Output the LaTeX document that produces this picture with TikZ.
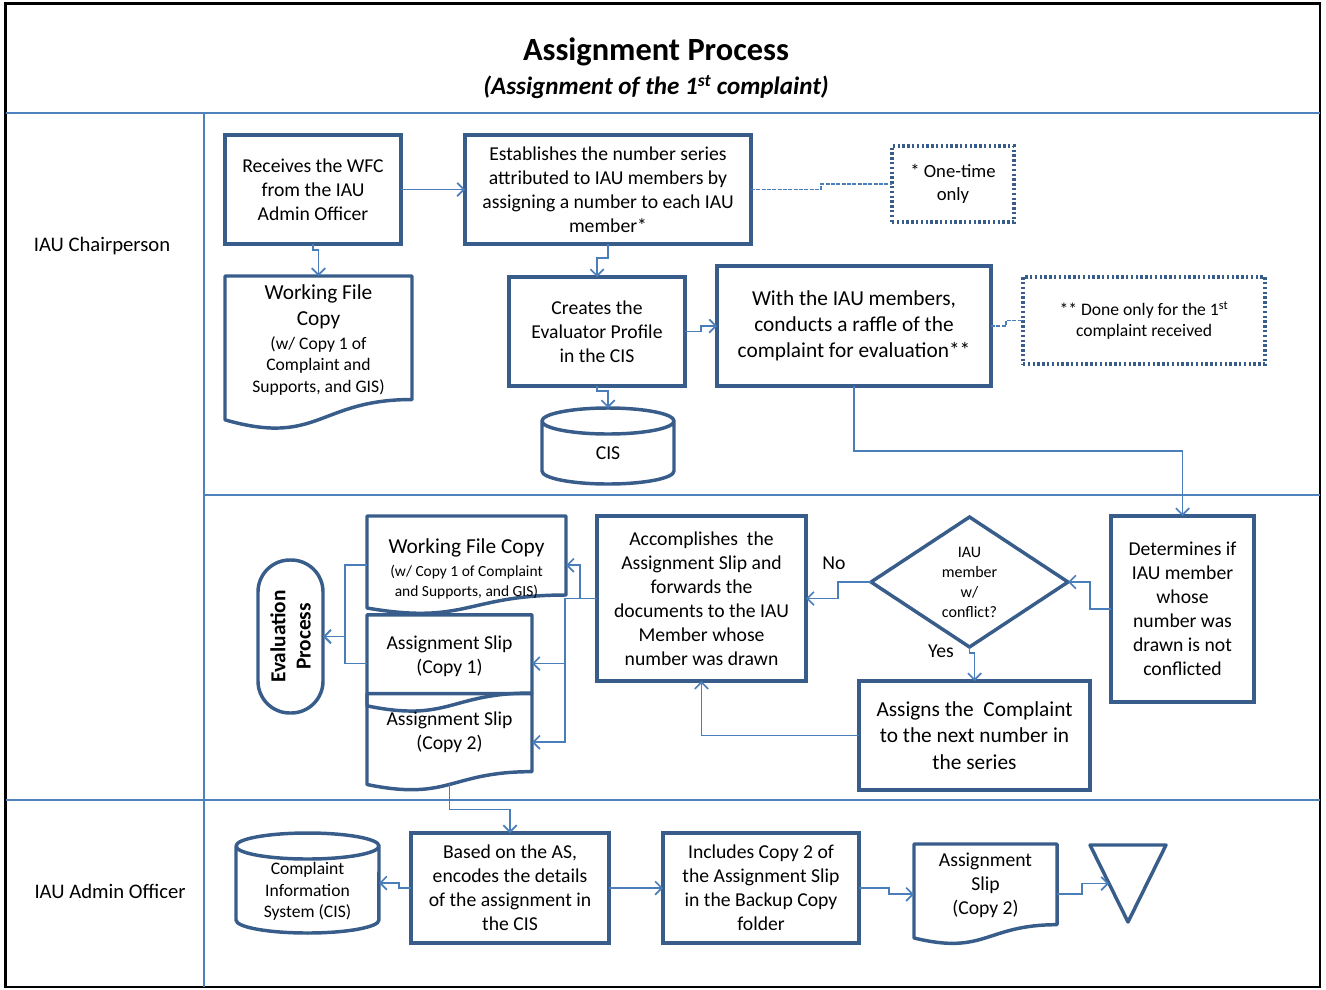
\documentclass[tikz,border=0pt]{standalone}
\usepackage{fontspec}
\setmainfont{Carlito}
\usetikzlibrary{arrows.meta,calc,shapes.geometric}

\definecolor{boxc}{RGB}{56,93,138}
\definecolor{linkc}{RGB}{74,126,187}
\definecolor{lanec}{RGB}{79,129,189}

% larger type for the heading line of a document shape
\newcommand\dochead{\fontsize{16pt}{19.7pt}\selectfont}

% draws a flowchart document shape fitted to a rectangular node: options, name
\newcommand\drawdoc[2]{\draw[#1] (#2.north west) -- (#2.north east)
  -- ($(#2.north east)!0.802!(#2.south east)$)
  .. controls ($(#2.north)!0.802!(#2.south)$) and ($(#2.north)!1.108!(#2.south)$)
  .. ($(#2.north west)!0.934!(#2.south west)$) -- cycle;}

% draws an upright cylinder fitted to a rectangular node: options, name, x radius, y radius
\newcommand\drawcyl[4]{\draw[#1] ([yshift=-#4]#2.north west) -- ([yshift=#4]#2.south west)
  arc[start angle=180, end angle=360, x radius=#3, y radius=#4]
  -- ([yshift=-#4]#2.north east)
  arc[start angle=0, end angle=180, x radius=#3, y radius=#4] -- cycle
  ([yshift=-#4]#2.north west) arc[start angle=180, end angle=360, x radius=#3, y radius=#4];}

\begin{document}
\begin{tikzpicture}[x=0.75pt,y=-0.75pt,
  every node/.style={inner sep=0pt, outer sep=0pt, align=center, text=black},
  proc/.style={draw=boxc, line width=2.6pt, fill=white},
  note/.style={draw=boxc, line width=2.5pt, dash pattern=on 1.8pt off 1.8pt, fill=white},
  shapeline/.style={draw=boxc, line width=2.6pt, line join=round},
  conn/.style={draw=linkc, line width=1.25pt, -{Straight Barb[length=5pt,width=10pt]}},
  dconn/.style={draw=linkc, line width=0.9pt, dash pattern=on 3pt off 1pt},
  lane/.style={draw=lanec, line width=1.7pt},
  fA/.style={font=\fontsize{14.75pt}{18pt}\selectfont},
  fB/.style={font=\fontsize{16pt}{19.7pt}\selectfont},
  fC/.style={font=\fontsize{13.2pt}{16.1pt}\selectfont},
  fD/.style={font=\fontsize{12pt}{15pt}\selectfont},
  fE/.style={font=\fontsize{14pt}{17.25pt}\selectfont},
  fLane/.style={font=\fontsize{15.5pt}{19pt}\selectfont},
]
\useasboundingbox (0,0) rectangle (1326,989);

% ---------- frame and swimlanes ----------
\draw[black, line width=1.8pt] (5.5,3.5) rectangle (1320,987);
\draw[lane] (5.5,113) -- (1320,113);
\draw[lane] (204,495) -- (1320,495);
\draw[lane] (5.5,800) -- (1320,800);
\draw[lane] (204,113) -- (204,987);

\node[font=\fontsize{24.3pt}{28pt}\selectfont\bfseries] (title) at (656,52) {Assignment Process};
\node[font=\fontsize{18.8pt}{22pt}\selectfont\bfseries\itshape] (subtitle) at (656,87)
  {(Assignment of the 1\textsuperscript{st} complaint)};

\node[fLane] (laneA) at (102,246) {IAU Chairperson};
\node[fLane] (laneB) at (110,891) {IAU Admin Officer};

% ---------- IAU Chairperson: set-up steps ----------
\node[proc, fA, minimum width=132pt, minimum height=81.75pt] (rec) at (313,189.5)
  {Receives the WFC\\from the IAU\\Admin Officer};
\node[proc, fA, minimum width=214.5pt, minimum height=81.75pt] (est) at (608,189.5)
  {Establishes the number series\\attributed to IAU members by\\assigning a number to each IAU\\member*};
\node[note, fE, minimum width=91.5pt, minimum height=57pt] (one) at (953,184)
  {* One-time\\only};

\node[minimum width=140.25pt, minimum height=115.5pt] (wfc1) at (318.5,353) {};
\drawdoc{shapeline, fill=white}{wfc1}
\node[fC] (wfc1txt) at (318.5,340)
  {\dochead Working File\\[3.4pt]\dochead Copy\\[1.9pt](w/ Copy 1 of\\Complaint and\\Supports, and GIS)};

\node[proc, fA, minimum width=132pt, minimum height=81.75pt] (cre) at (597,331.5)
  {Creates the\\Evaluator Profile\\in the CIS};
\node[proc, fB, minimum width=205.5pt, minimum height=90pt] (with) at (854,326)
  {With the IAU members,\\conducts a raffle of the\\complaint for evaluation**};
\node[note, fC, minimum width=181.5pt, minimum height=65.25pt] (done) at (1144,320.5)
  {** Done only for the 1\textsuperscript{st}\\complaint received};

\node[minimum width=99pt, minimum height=57pt] (cis) at (608,446) {};
\drawcyl{shapeline, fill=white}{cis}{49.5pt}{9.75pt}
\node[fA] (cistxt) at (608,453) {CIS};

% ---------- IAU Chairperson: raffle outcome ----------
\node[proc, fA, minimum width=107.25pt, minimum height=139.5pt] (det) at (1182.5,609)
  {Determines if\\IAU member\\whose\\number was\\drawn is not\\conflicted};
\node[diamond, aspect=1.5, draw=boxc, line width=2.6pt, fill=white, fD,
      minimum width=147.75pt, minimum height=97.5pt] (dia) at (969.5,582)
  {IAU\\member\\w/\\conflict?};
\node[proc, fB, minimum width=173.25pt, minimum height=81.75pt] (ass) at (974.5,735.5)
  {Assigns the~ Complaint\\to the next number in\\the series};
\node[proc, fA, minimum width=156.75pt, minimum height=123.75pt] (acc) at (701.5,598.5)
  {Accomplishes~ the\\Assignment Slip and\\forwards the\\documents to the IAU\\Member whose\\number was drawn};

\node[minimum width=149.25pt, minimum height=73.875pt] (wfc2) at (466.5,565.25) {};
\drawdoc{shapeline, fill=white}{wfc2}
\node[font=\fontsize{11.6pt}{15pt}\selectfont] (wfc2txt) at (466.5,569)
  {\dochead Working File Copy\\[2.25pt](w/ Copy 1 of Complaint\\and Supports, and GIS)};

\node[minimum width=123.75pt, minimum height=73pt] (as2) at (449.5,742.25) {};
\node[minimum width=123.75pt, minimum height=73pt] (as1) at (449.5,663.6) {};
\drawdoc{shapeline, fill=white}{as2}
\drawdoc{shapeline}{as1}
\node[fA] (as1txt) at (449.5,656) {Assignment Slip\\(Copy 1)};
\node[fA] (as2txt) at (449.5,732) {Assignment Slip\\(Copy 2)};
\coordinate (as2b) at ($(as2.center)!0.866!(as2.south)$);

\node[draw=boxc, line width=2.6pt, fill=white, rounded corners=23.9pt, rotate=90,
      font=\fontsize{16pt}{19pt}\selectfont\bfseries,
      minimum width=114.75pt, minimum height=48.75pt] (eva) at (290.5,636.5)
  {Evaluation\\Process};

% ---------- IAU Admin Officer ----------
\node[minimum width=107.25pt, minimum height=75pt] (cis2) at (307.5,883) {};
\drawcyl{shapeline, fill=white}{cis2}{53.6pt}{9.75pt}
\node[fC] (cis2txt) at (307.5,891.5) {Complaint\\Information\\System (CIS)};

\node[proc, fA, minimum width=148.5pt, minimum height=82.5pt] (bas) at (510,888)
  {Based on the AS,\\encodes the details\\of the assignment in\\the CIS};
\node[proc, fA, minimum width=147pt, minimum height=82.5pt] (inc) at (761,888)
  {Includes Copy 2 of\\the Assignment Slip\\in the Backup Copy\\folder};

\node[minimum width=107.25pt, minimum height=75.45pt] (asd) at (985.5,894.3) {};
\drawdoc{shapeline, fill=white}{asd}
\node[fA] (asdtxt) at (985.5,885) {Assignment\\Slip\\(Copy 2)};

\node[minimum width=57pt, minimum height=57.75pt] (tri) at (1128,883.5) {};
\draw[shapeline] (tri.north west) -- (tri.north east) -- (tri.south) -- cycle;
\coordinate (trip) at ($(tri.north west)!0.5!(tri.south)$);

% ---------- connectors ----------
\draw[conn] (rec) -- (est);
\draw[conn] (rec.south) -- ++(0,6) -| (wfc1.north);
\draw[conn] (est.south) -- ++(0,14) -| (cre.north);
\draw[conn] (cre.east) -- ++(16,0) |- (with.west);
\draw[conn] (cre.south) -- ++(0,5) -| (cis.north);
\draw[dconn] (est.east) -- ++(70,0) |- (one.west);
\draw[dconn] (with.east) -- ++(15,0) |- (done.west);
\draw[conn] (with.south) -- ++(0,65) -| (det.north);

\draw[conn] (det.west) -- ++(-21,0) |- (dia.east);
\draw[conn] (dia.west) -- ++(-33,0) |- (acc.east);
\draw[conn] (dia.south) -- ++(0,6) -| (ass.north);
\draw[conn] (ass.west) -| (acc.south);
\node[fA] (nolbl) at (834,563) {No};
\node[fA] (yeslbl) at (941,651) {Yes};

\draw[conn] (acc.west) -- ++(-17,0) |- (wfc2.east);
\draw[conn] (acc.west) -- ++(-32,0) |- (as1.east);
\draw[conn] (acc.west) -- ++(-32,0) |- (as2.east);
\draw[conn] (wfc2.west) -- ++(-22,0) |- (eva.south);
\draw[conn] (as1.west) -- ++(-22,0) |- (eva.south);

\draw[conn] (as2b) -- ++(0,25) -| (bas.north);
\draw[conn] (bas.west) -- ++(-12,0) |- (cis2.east);
\draw[conn] (bas) -- (inc);
\draw[conn] (inc.east) -- ++(30,0) |- (asd.west);
\draw[conn] (asd.east) -- ++(25,0) |- (trip);
\end{tikzpicture}
\end{document}
